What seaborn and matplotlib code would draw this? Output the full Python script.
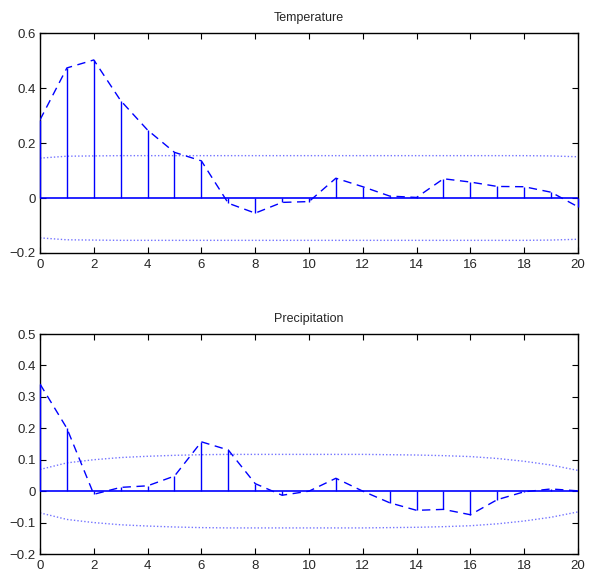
import numpy as np
import pandas as pd
import matplotlib
matplotlib.use("Agg")
import matplotlib.pyplot as plt
import seaborn as sns
from matplotlib.ticker import FuncFormatter, MultipleLocator

lags = list(range(21))
temp_vals = [0.284, 0.473, 0.502, 0.354, 0.247, 0.166, 0.135, -0.019, -0.055, -0.016,
             -0.013, 0.072, 0.041, 0.007, 0.002, 0.070, 0.058, 0.042, 0.041, 0.021, -0.032]
temp_band = [0.145, 0.152, 0.153, 0.154, 0.154, 0.154, 0.154, 0.154, 0.154, 0.154,
             0.154, 0.154, 0.154, 0.154, 0.154, 0.154, 0.154, 0.154, 0.154, 0.153, 0.150]
prec_vals = [0.341, 0.200, -0.010, 0.012, 0.017, 0.048, 0.157, 0.131, 0.024, -0.013,
             0.000, 0.041, 0.000, -0.037, -0.061, -0.058, -0.075, -0.027, -0.002, 0.007, 0.001]
prec_band = [0.069, 0.090, 0.100, 0.107, 0.111, 0.114, 0.116, 0.117, 0.117, 0.117,
             0.117, 0.117, 0.117, 0.116, 0.115, 0.113, 0.110, 0.104, 0.095, 0.083, 0.066]
titles = ["Temperature", "Precipitation"]
ylims = [(-0.2, 0.6), (-0.2, 0.5)]
ysteps = [0.2, 0.1]

sns.set_style("ticks")
plt.rcParams["font.family"] = ["Liberation Sans", "DejaVu Sans"]
plt.rcParams["xtick.direction"] = "in"
plt.rcParams["ytick.direction"] = "in"

fig = plt.figure(figsize=(5.89, 5.75), dpi=100)
ax1 = fig.add_axes([0.0679, 0.560, 0.9134, 0.3826])
ax2 = fig.add_axes([0.0679, 0.0365, 0.9134, 0.3826])

blue = "#0000ff"
fmt = FuncFormatter(lambda v, p: ("%g" % round(v, 3)).replace("-", "\u2212"))

for ax, vals, band, title, yl, ys in zip([ax1, ax2], [temp_vals, prec_vals],
                                         [temp_band, prec_band], titles, ylims, ysteps):
    df = pd.DataFrame({"lag": lags, "acf": vals, "up": band,
                       "lo": [-b for b in band]})
    ax.vlines(df["lag"], 0, df["acf"], colors=blue, linewidth=1.0, zorder=3,
              clip_on=False)
    ax.axhline(0, color=blue, linewidth=1.2, zorder=3)
    sns.lineplot(data=df, x="lag", y="acf", ax=ax, color=blue, linewidth=1.0,
                 dashes=False, linestyle=(0, (6, 4)), zorder=3)
    sns.lineplot(data=df, x="lag", y="up", ax=ax, color=blue, alpha=0.55,
                 linewidth=1.0, linestyle=(0, (1, 1.5)))
    sns.lineplot(data=df, x="lag", y="lo", ax=ax, color=blue, alpha=0.55,
                 linewidth=1.0, linestyle=(0, (1, 1.5)))
    ax.set_xlim(0, 20)
    ax.set_ylim(*yl)
    ax.xaxis.set_major_locator(MultipleLocator(2))
    ax.yaxis.set_major_locator(MultipleLocator(ys))
    ax.yaxis.set_major_formatter(fmt)
    ax.xaxis.set_major_formatter(fmt)
    ax.set_xlabel("")
    ax.set_ylabel("")
    ax.set_title(title, fontsize=9, pad=9)
    ax.tick_params(axis="both", which="both", direction="in", top=True, right=True,
                   length=4, width=0.8, labelsize=9.5, color="black")
    ax.tick_params(axis="x", pad=4)
    ax.tick_params(axis="y", pad=3)
    for s in ax.spines.values():
        s.set_visible(True)
        s.set_color("black")
        s.set_linewidth(1.0)

fig.savefig("out.png", dpi=100)
